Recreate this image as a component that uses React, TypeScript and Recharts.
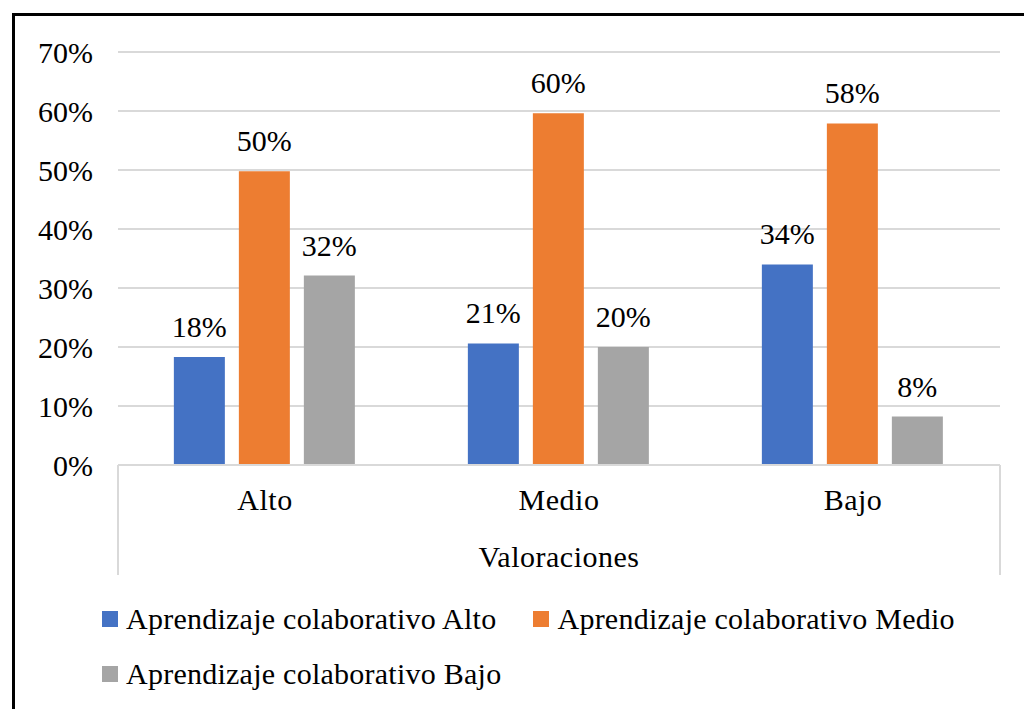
import React from 'react';
import * as RC from 'recharts';
import { BarChart, Bar, XAxis, YAxis, CartesianGrid, LabelList } from 'recharts';

const categories = ['Alto', 'Medio', 'Bajo'];
const altoValues = [18.3, 20.6, 34.0];
const medioValues = [49.8, 59.6, 57.9];
const bajoValues = [32.1, 20.0, 8.2];
const yTicks = [0, 10, 20, 30, 40, 50, 60, 70];

const series = [
  { key: 'alto', name: 'Aprendizaje colaborativo Alto', color: '#4472C4', values: altoValues },
  { key: 'medio', name: 'Aprendizaje colaborativo Medio', color: '#ED7D31', values: medioValues },
  { key: 'bajo', name: 'Aprendizaje colaborativo Bajo', color: '#A5A5A5', values: bajoValues },
];

const data = categories.map((name, i) => {
  const row: any = { name };
  series.forEach((s) => { row[s.key] = s.values[i]; });
  return row;
});

const FONT = 'Liberation Serif';
const GRID = '#D9D9D9';
const textStyle = { fill: '#000', fontSize: 30, fontFamily: FONT };

// vertical edges of the category axis box, under the plot area
function AxisBox() {
  const hook: any = (RC as any).usePlotArea || (RC as any).useOffset;
  const area = hook();
  if (!area) return null;
  const left = area.x ?? area.left;
  const top = area.y ?? area.top;
  const width = area.width;
  const bottom = top + area.height;
  return (
    <g>
      <line x1={left} x2={left} y1={bottom} y2={bottom + 110} stroke={GRID} strokeWidth={2} />
      <line x1={left + width} x2={left + width} y1={bottom} y2={bottom + 110} stroke={GRID} strokeWidth={2} />
    </g>
  );
}

export default function App() {
  return (
    <div style={{ position: 'fixed', left: 0, top: 0, width: 1024, height: 709, background: '#fff', overflow: 'hidden', fontFamily: FONT }}>
      <div style={{ position: 'absolute', left: 12, top: 13, width: 1012, height: 696, borderLeft: '3px solid #000', borderTop: '3px solid #000', boxSizing: 'border-box' }} />
      <div style={{ position: 'absolute', left: 0, top: 0 }}>
        <BarChart width={1024} height={709} data={data} margin={{ top: 52, right: 24, bottom: 0, left: 0 }}
          barCategoryGap="19%" barGap={14}>
          <CartesianGrid vertical={false} stroke={GRID} strokeWidth={2} />
          <XAxis dataKey="name" height={244} axisLine={{ stroke: GRID, strokeWidth: 2 }} tickLine={false}
            tickSize={0} tickMargin={24} tick={{ ...textStyle, letterSpacing: 0.5 }}
            label={{ value: 'Valoraciones', position: 'insideTop', offset: 81, ...textStyle, letterSpacing: 0.5 }} />
          <YAxis width={118} domain={[0, 70]} ticks={yTicks} axisLine={false} tickLine={false}
            tickSize={0} tickMargin={25} tickFormatter={(v: number) => `${v}%`} tick={textStyle} />
          {series.map((s) => (
            <Bar key={s.key} dataKey={s.key} name={s.name} fill={s.color} isAnimationActive={false}>
              <LabelList dataKey={s.key} position="top" offset={20}
                formatter={(v: any) => `${Math.round(Number(v))}%`} {...textStyle} />
            </Bar>
          ))}
          <AxisBox />
        </BarChart>
      </div>
      <div style={{ position: 'absolute', left: 102, top: 600, width: 900, display: 'flex', flexWrap: 'wrap', rowGap: 17, columnGap: 37, fontFamily: FONT, fontSize: 30, letterSpacing: 0.25, color: '#000' }}>
        {series.map((s) => (
          <div key={s.key} style={{ display: 'flex', alignItems: 'center', height: 38 }}>
            <span style={{ display: 'inline-block', width: 16, height: 16, background: s.color, marginRight: 8 }} />
            <span>{s.name}</span>
          </div>
        ))}
      </div>
    </div>
  );
}
